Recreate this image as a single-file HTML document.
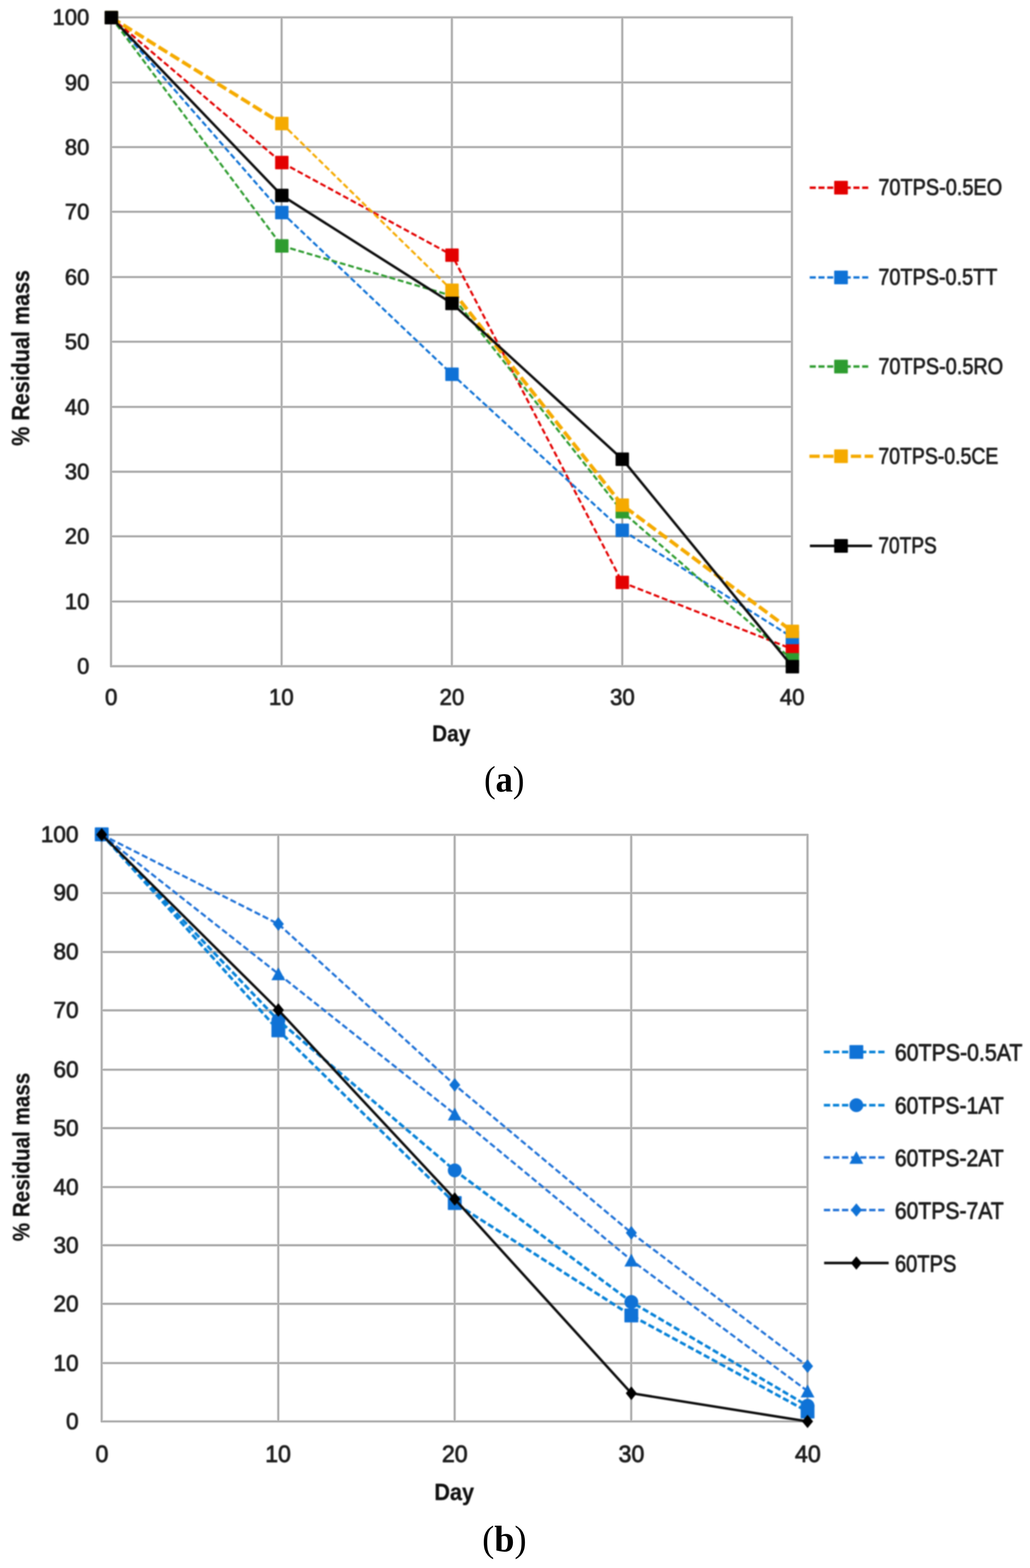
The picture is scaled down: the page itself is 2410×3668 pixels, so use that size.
<!DOCTYPE html>
<html lang="en">
<head>
<meta charset="utf-8">
<title>Residual mass vs. day</title>
<style>
html,body{margin:0;padding:0;background:#fff;}
body{width:2410px;height:3668px;overflow:hidden;}
svg{display:block;}
.g{stroke:#aeaeae;stroke-width:3.8;fill:none;}
.gh{stroke:#dedede;stroke-width:6.8;fill:none;}
.go{stroke:#f8f8f8;stroke-width:9.5;fill:none;}
text{white-space:pre;}
</style>
</head>
<body>
<svg width="2410" height="3668" viewBox="0 0 2410 3668" role="img" aria-label="Residual mass versus day for 70TPS and 60TPS blends">
<defs><filter id="soft" filterUnits="userSpaceOnUse" x="0" y="0" width="2410" height="3668" color-interpolation-filters="sRGB"><feGaussianBlur stdDeviation="1.35"/></filter><filter id="softt" filterUnits="userSpaceOnUse" x="0" y="0" width="2410" height="3668" color-interpolation-filters="sRGB"><feGaussianBlur stdDeviation="1.5"/></filter><filter id="softg" filterUnits="userSpaceOnUse" x="0" y="0" width="2410" height="3668" color-interpolation-filters="sRGB"><feGaussianBlur stdDeviation="0.6"/></filter></defs>
<rect width="2410" height="3668" fill="#ffffff"/>
<g filter="url(#softg)"><path d="M257.95 1558.50H1854.75M257.95 1407.20H1854.75M257.95 1254.60H1854.75M257.95 1103.50H1854.75M257.95 951.90H1854.75M257.95 799.30H1854.75M257.95 648.10H1854.75M257.95 495.40H1854.75M257.95 344.20H1854.75M257.95 192.90H1854.75M257.95 40.60H1854.75M259.80 38.75V1560.35M658.90 38.75V1560.35M1057.30 38.75V1560.35M1456.00 38.75V1560.35M1852.90 38.75V1560.35" class="go"/><path d="M257.95 1558.50H1854.75M257.95 1407.20H1854.75M257.95 1254.60H1854.75M257.95 1103.50H1854.75M257.95 951.90H1854.75M257.95 799.30H1854.75M257.95 648.10H1854.75M257.95 495.40H1854.75M257.95 344.20H1854.75M257.95 192.90H1854.75M257.95 40.60H1854.75M259.80 38.75V1560.35M658.90 38.75V1560.35M1057.30 38.75V1560.35M1456.00 38.75V1560.35M1852.90 38.75V1560.35" class="gh"/><path d="M257.95 1558.50H1854.75M257.95 1407.20H1854.75M257.95 1254.60H1854.75M257.95 1103.50H1854.75M257.95 951.90H1854.75M257.95 799.30H1854.75M257.95 648.10H1854.75M257.95 495.40H1854.75M257.95 344.20H1854.75M257.95 192.90H1854.75M257.95 40.60H1854.75M259.80 38.75V1560.35M658.90 38.75V1560.35M1057.30 38.75V1560.35M1456.00 38.75V1560.35M1852.90 38.75V1560.35" class="g"/></g>
<g id="chart-a" filter="url(#soft)">
<path d="M260.60 41.20L659.40 380.30L1057.60 596.90L1456.00 1362.40L1854.00 1518.50" fill="none" stroke="#e30000" stroke-width="5.0" stroke-dasharray="13.6 6.6" stroke-linecap="butt" stroke-linejoin="round"/>
<rect x="244.90" y="25.50" width="31.40" height="31.40" rx="1.5" fill="#e30000"/>
<rect x="643.70" y="364.60" width="31.40" height="31.40" rx="1.5" fill="#e30000"/>
<rect x="1041.90" y="581.20" width="31.40" height="31.40" rx="1.5" fill="#e30000"/>
<rect x="1440.30" y="1346.70" width="31.40" height="31.40" rx="1.5" fill="#e30000"/>
<rect x="1838.30" y="1502.80" width="31.40" height="31.40" rx="1.5" fill="#e30000"/>
<path d="M260.60 41.20L659.40 497.20L1057.60 875.50L1456.00 1240.40L1854.00 1491.30" fill="none" stroke="#0f72d6" stroke-width="5.0" stroke-dasharray="13.6 6.6" stroke-linecap="butt" stroke-linejoin="round"/>
<rect x="244.90" y="25.50" width="31.40" height="31.40" rx="1.5" fill="#0f72d6"/>
<rect x="643.70" y="481.50" width="31.40" height="31.40" rx="1.5" fill="#0f72d6"/>
<rect x="1041.90" y="859.80" width="31.40" height="31.40" rx="1.5" fill="#0f72d6"/>
<rect x="1440.30" y="1224.70" width="31.40" height="31.40" rx="1.5" fill="#0f72d6"/>
<rect x="1838.30" y="1475.60" width="31.40" height="31.40" rx="1.5" fill="#0f72d6"/>
<path d="M260.60 41.20L659.40 575.20L1057.60 692.00L1456.00 1197.00L1854.00 1543.50" fill="none" stroke="#2e9c2f" stroke-width="5.0" stroke-dasharray="13.6 6.6" stroke-linecap="butt" stroke-linejoin="round"/>
<rect x="244.90" y="25.50" width="31.40" height="31.40" rx="1.5" fill="#2e9c2f"/>
<rect x="643.70" y="559.50" width="31.40" height="31.40" rx="1.5" fill="#2e9c2f"/>
<rect x="1041.90" y="676.30" width="31.40" height="31.40" rx="1.5" fill="#2e9c2f"/>
<rect x="1440.30" y="1181.30" width="31.40" height="31.40" rx="1.5" fill="#2e9c2f"/>
<rect x="1838.30" y="1527.80" width="31.40" height="31.40" rx="1.5" fill="#2e9c2f"/>
<path d="M260.60 41.20L659.40 289.00" fill="none" stroke="#f5aa00" stroke-width="8.4" stroke-dasharray="24 8.5" stroke-linecap="butt" stroke-linejoin="round"/>
<path d="M659.40 289.00L1057.60 679.00" fill="none" stroke="#f5aa00" stroke-width="5.0" stroke-dasharray="13.6 6.6" stroke-linecap="butt" stroke-linejoin="round"/>
<path d="M1057.60 679.00L1456.00 1181.60L1854.00 1477.00" fill="none" stroke="#f5aa00" stroke-width="8.4" stroke-dasharray="24 8.5" stroke-linecap="butt" stroke-linejoin="round"/>
<rect x="244.90" y="25.50" width="31.40" height="31.40" rx="1.5" fill="#f5aa00"/>
<rect x="643.70" y="273.30" width="31.40" height="31.40" rx="1.5" fill="#f5aa00"/>
<rect x="1041.90" y="663.30" width="31.40" height="31.40" rx="1.5" fill="#f5aa00"/>
<rect x="1440.30" y="1165.90" width="31.40" height="31.40" rx="1.5" fill="#f5aa00"/>
<rect x="1838.30" y="1461.30" width="31.40" height="31.40" rx="1.5" fill="#f5aa00"/>
<path d="M260.60 41.20L659.40 457.30L1057.60 709.70L1456.00 1074.20L1854.00 1559.50" fill="none" stroke="#0c0c0c" stroke-width="5.8" stroke-linecap="butt" stroke-linejoin="round"/>
<rect x="244.90" y="25.50" width="31.40" height="31.40" rx="1.5" fill="#000000"/>
<rect x="643.70" y="441.60" width="31.40" height="31.40" rx="1.5" fill="#000000"/>
<rect x="1041.90" y="694.00" width="31.40" height="31.40" rx="1.5" fill="#000000"/>
<rect x="1440.30" y="1058.50" width="31.40" height="31.40" rx="1.5" fill="#000000"/>
<rect x="1838.30" y="1543.80" width="31.40" height="31.40" rx="1.5" fill="#000000"/>
<path d="M1894.60 439.10L2031.50 439.10" fill="none" stroke="#e30000" stroke-width="5.7" stroke-dasharray="14.2 6.25" stroke-linecap="butt" stroke-linejoin="round"/>
<rect x="1951.80" y="423.10" width="32.00" height="32.00" rx="1.5" fill="#e30000"/>
<path d="M1894.60 649.00L2031.50 649.00" fill="none" stroke="#0f72d6" stroke-width="5.7" stroke-dasharray="14.2 6.25" stroke-linecap="butt" stroke-linejoin="round"/>
<rect x="1951.80" y="633.00" width="32.00" height="32.00" rx="1.5" fill="#0f72d6"/>
<path d="M1894.60 857.40L2031.50 857.40" fill="none" stroke="#2e9c2f" stroke-width="5.7" stroke-dasharray="14.2 6.25" stroke-linecap="butt" stroke-linejoin="round"/>
<rect x="1951.80" y="841.40" width="32.00" height="32.00" rx="1.5" fill="#2e9c2f"/>
<path d="M1893.90 1067.30L2043.20 1067.30" fill="none" stroke="#f5aa00" stroke-width="7.8" stroke-dasharray="24 8.3" stroke-linecap="butt" stroke-linejoin="round"/>
<rect x="1951.80" y="1051.30" width="32.00" height="32.00" rx="1.5" fill="#f5aa00"/>
<path d="M1895.00 1277.10L2040.50 1277.10" fill="none" stroke="#0c0c0c" stroke-width="6.0" stroke-linecap="butt" stroke-linejoin="round"/>
<rect x="1951.80" y="1261.10" width="32.00" height="32.00" rx="1.5" fill="#000000"/>
</g>
<g id="chart-a-labels" filter="url(#softt)">
<text transform="matrix(0.5132 0 0 0.5151 180.60 1576.37)" font-family="'Liberation Sans', sans-serif" font-weight="normal" font-size="100" fill="#1e1e1e" stroke="#1e1e1e" stroke-width="3.2" stroke-linejoin="round">0</text>
<text transform="matrix(0.5132 0 0 0.5151 151.86 1425.07)" font-family="'Liberation Sans', sans-serif" font-weight="normal" font-size="100" fill="#1e1e1e" stroke="#1e1e1e" stroke-width="3.2" stroke-linejoin="round">10</text>
<text transform="matrix(0.5132 0 0 0.5151 151.86 1272.47)" font-family="'Liberation Sans', sans-serif" font-weight="normal" font-size="100" fill="#1e1e1e" stroke="#1e1e1e" stroke-width="3.2" stroke-linejoin="round">20</text>
<text transform="matrix(0.5132 0 0 0.5151 151.86 1121.37)" font-family="'Liberation Sans', sans-serif" font-weight="normal" font-size="100" fill="#1e1e1e" stroke="#1e1e1e" stroke-width="3.2" stroke-linejoin="round">30</text>
<text transform="matrix(0.5132 0 0 0.5151 151.86 969.77)" font-family="'Liberation Sans', sans-serif" font-weight="normal" font-size="100" fill="#1e1e1e" stroke="#1e1e1e" stroke-width="3.2" stroke-linejoin="round">40</text>
<text transform="matrix(0.5132 0 0 0.5151 151.86 817.17)" font-family="'Liberation Sans', sans-serif" font-weight="normal" font-size="100" fill="#1e1e1e" stroke="#1e1e1e" stroke-width="3.2" stroke-linejoin="round">50</text>
<text transform="matrix(0.5132 0 0 0.5151 151.86 665.97)" font-family="'Liberation Sans', sans-serif" font-weight="normal" font-size="100" fill="#1e1e1e" stroke="#1e1e1e" stroke-width="3.2" stroke-linejoin="round">60</text>
<text transform="matrix(0.5132 0 0 0.5151 151.86 513.27)" font-family="'Liberation Sans', sans-serif" font-weight="normal" font-size="100" fill="#1e1e1e" stroke="#1e1e1e" stroke-width="3.2" stroke-linejoin="round">70</text>
<text transform="matrix(0.5132 0 0 0.5151 151.86 362.07)" font-family="'Liberation Sans', sans-serif" font-weight="normal" font-size="100" fill="#1e1e1e" stroke="#1e1e1e" stroke-width="3.2" stroke-linejoin="round">80</text>
<text transform="matrix(0.5132 0 0 0.5151 151.86 210.77)" font-family="'Liberation Sans', sans-serif" font-weight="normal" font-size="100" fill="#1e1e1e" stroke="#1e1e1e" stroke-width="3.2" stroke-linejoin="round">90</text>
<text transform="matrix(0.5132 0 0 0.5151 123.12 58.47)" font-family="'Liberation Sans', sans-serif" font-weight="normal" font-size="100" fill="#1e1e1e" stroke="#1e1e1e" stroke-width="3.2" stroke-linejoin="round">100</text>
<text transform="matrix(0.5189 0 0 0.5356 245.83 1649.23)" font-family="'Liberation Sans', sans-serif" font-weight="normal" font-size="100" fill="#1e1e1e" stroke="#1e1e1e" stroke-width="3.2" stroke-linejoin="round">0</text>
<text transform="matrix(0.5189 0 0 0.5356 629.37 1649.23)" font-family="'Liberation Sans', sans-serif" font-weight="normal" font-size="100" fill="#1e1e1e" stroke="#1e1e1e" stroke-width="3.2" stroke-linejoin="round">10</text>
<text transform="matrix(0.5189 0 0 0.5356 1028.54 1649.23)" font-family="'Liberation Sans', sans-serif" font-weight="normal" font-size="100" fill="#1e1e1e" stroke="#1e1e1e" stroke-width="3.2" stroke-linejoin="round">20</text>
<text transform="matrix(0.5189 0 0 0.5356 1427.50 1649.23)" font-family="'Liberation Sans', sans-serif" font-weight="normal" font-size="100" fill="#1e1e1e" stroke="#1e1e1e" stroke-width="3.2" stroke-linejoin="round">30</text>
<text transform="matrix(0.5189 0 0 0.5356 1824.66 1649.23)" font-family="'Liberation Sans', sans-serif" font-weight="normal" font-size="100" fill="#1e1e1e" stroke="#1e1e1e" stroke-width="3.2" stroke-linejoin="round">40</text>
<text transform="matrix(0.4881 0 0 0.5311 1011.07 1733.85)" font-family="'Liberation Sans', sans-serif" font-weight="bold" font-size="100" fill="#101010" stroke="#101010" stroke-width="0.8" stroke-linejoin="round">Day</text>
<text transform="matrix(0 -0.5033 0.5811 0 67.92 1042.91)" font-family="'Liberation Sans', sans-serif" font-weight="bold" font-size="100" fill="#101010" stroke="#101010" stroke-width="0.8" stroke-linejoin="round">% Residual mass</text>
<text transform="matrix(0.4655 0 0 0.5284 2055.14 456.34)" font-family="'Liberation Sans', sans-serif" font-weight="normal" font-size="100" fill="#1e1e1e" stroke="#1e1e1e" stroke-width="3.2" stroke-linejoin="round">70TPS-0.5EO</text>
<text transform="matrix(0.4639 0 0 0.5284 2055.14 666.24)" font-family="'Liberation Sans', sans-serif" font-weight="normal" font-size="100" fill="#1e1e1e" stroke="#1e1e1e" stroke-width="3.2" stroke-linejoin="round">70TPS-0.5TT</text>
<text transform="matrix(0.4654 0 0 0.5284 2055.14 874.64)" font-family="'Liberation Sans', sans-serif" font-weight="normal" font-size="100" fill="#1e1e1e" stroke="#1e1e1e" stroke-width="3.2" stroke-linejoin="round">70TPS-0.5RO</text>
<text transform="matrix(0.4552 0 0 0.5284 2055.18 1084.54)" font-family="'Liberation Sans', sans-serif" font-weight="normal" font-size="100" fill="#1e1e1e" stroke="#1e1e1e" stroke-width="3.2" stroke-linejoin="round">70TPS-0.5CE</text>
<text transform="matrix(0.4468 0 0 0.5284 2055.21 1294.34)" font-family="'Liberation Sans', sans-serif" font-weight="normal" font-size="100" fill="#1e1e1e" stroke="#1e1e1e" stroke-width="3.2" stroke-linejoin="round">70TPS</text>
</g>
<text transform="matrix(0.8093 0 0 0.8578 1132.66 1851.99)" font-family="'Liberation Serif', serif" font-weight="normal" font-size="100" fill="#000">(<tspan font-weight="bold">a</tspan>)</text>
<g filter="url(#softg)"><path d="M236.05 3325.20H1891.25M236.05 3188.70H1891.25M236.05 3050.00H1891.25M236.05 2913.00H1891.25M236.05 2776.90H1891.25M236.05 2639.00H1891.25M236.05 2502.30H1891.25M236.05 2363.50H1891.25M236.05 2227.00H1891.25M236.05 2089.20H1891.25M236.05 1952.90H1891.25M237.90 1951.05V3327.05M651.10 1951.05V3327.05M1063.80 1951.05V3327.05M1476.90 1951.05V3327.05M1889.40 1951.05V3327.05" class="go"/><path d="M236.05 3325.20H1891.25M236.05 3188.70H1891.25M236.05 3050.00H1891.25M236.05 2913.00H1891.25M236.05 2776.90H1891.25M236.05 2639.00H1891.25M236.05 2502.30H1891.25M236.05 2363.50H1891.25M236.05 2227.00H1891.25M236.05 2089.20H1891.25M236.05 1952.90H1891.25M237.90 1951.05V3327.05M651.10 1951.05V3327.05M1063.80 1951.05V3327.05M1476.90 1951.05V3327.05M1889.40 1951.05V3327.05" class="gh"/><path d="M236.05 3325.20H1891.25M236.05 3188.70H1891.25M236.05 3050.00H1891.25M236.05 2913.00H1891.25M236.05 2776.90H1891.25M236.05 2639.00H1891.25M236.05 2502.30H1891.25M236.05 2363.50H1891.25M236.05 2227.00H1891.25M236.05 2089.20H1891.25M236.05 1952.90H1891.25M237.90 1951.05V3327.05M651.10 1951.05V3327.05M1063.80 1951.05V3327.05M1476.90 1951.05V3327.05M1889.40 1951.05V3327.05" class="g"/></g>
<g id="chart-b" filter="url(#soft)">
<path d="M238.00 1951.80L651.30 2410.20L1064.00 2814.20L1477.20 3077.30L1889.50 3302.00" fill="none" stroke="#0782d8" stroke-width="6.5" stroke-dasharray="14.5 6.6" stroke-linecap="butt" stroke-linejoin="round"/>
<rect x="221.80" y="1935.60" width="32.40" height="32.40" rx="1.5" fill="#0f72d6"/>
<rect x="635.10" y="2394.00" width="32.40" height="32.40" rx="1.5" fill="#0f72d6"/>
<rect x="1047.80" y="2798.00" width="32.40" height="32.40" rx="1.5" fill="#0f72d6"/>
<rect x="1461.00" y="3061.10" width="32.40" height="32.40" rx="1.5" fill="#0f72d6"/>
<rect x="1873.30" y="3285.80" width="32.40" height="32.40" rx="1.5" fill="#0f72d6"/>
<path d="M238.00 1952.50L651.30 2387.00L1064.00 2737.90L1477.20 3045.80L1889.50 3288.50" fill="none" stroke="#0782d8" stroke-width="6.5" stroke-dasharray="14.5 6.6" stroke-linecap="butt" stroke-linejoin="round"/>
<circle cx="238.00" cy="1952.50" r="16.20" fill="#0f72d6"/>
<circle cx="651.30" cy="2387.00" r="16.20" fill="#0f72d6"/>
<circle cx="1064.00" cy="2737.90" r="16.20" fill="#0f72d6"/>
<circle cx="1477.20" cy="3045.80" r="16.20" fill="#0f72d6"/>
<circle cx="1889.50" cy="3288.50" r="16.20" fill="#0f72d6"/>
<path d="M238.00 1952.50L651.30 2278.10L1064.00 2606.10L1477.20 2947.80L1889.50 3254.00" fill="none" stroke="#1f72d8" stroke-width="5.2" stroke-dasharray="14.3 6.8" stroke-linecap="butt" stroke-linejoin="round"/>
<path d="M238.00 1937.60L254.20 1967.40L221.80 1967.40Z" fill="#0f72d6"/>
<path d="M651.30 2263.20L667.50 2293.00L635.10 2293.00Z" fill="#0f72d6"/>
<path d="M1064.00 2591.20L1080.20 2621.00L1047.80 2621.00Z" fill="#0f72d6"/>
<path d="M1477.20 2932.90L1493.40 2962.70L1461.00 2962.70Z" fill="#0f72d6"/>
<path d="M1889.50 3239.10L1905.70 3268.90L1873.30 3268.90Z" fill="#0f72d6"/>
<path d="M238.00 1952.50L651.30 2161.50L1064.00 2537.90L1477.20 2883.90L1889.50 3195.90" fill="none" stroke="#1f72d8" stroke-width="5.2" stroke-dasharray="14.3 6.8" stroke-linecap="butt" stroke-linejoin="round"/>
<path d="M238.00 1936.79L250.96 1952.50L238.00 1968.21L225.04 1952.50Z" fill="#0f72d6"/>
<path d="M651.30 2145.79L664.26 2161.50L651.30 2177.21L638.34 2161.50Z" fill="#0f72d6"/>
<path d="M1064.00 2522.19L1076.96 2537.90L1064.00 2553.61L1051.04 2537.90Z" fill="#0f72d6"/>
<path d="M1477.20 2868.19L1490.16 2883.90L1477.20 2899.61L1464.24 2883.90Z" fill="#0f72d6"/>
<path d="M1889.50 3180.19L1902.46 3195.90L1889.50 3211.61L1876.54 3195.90Z" fill="#0f72d6"/>
<path d="M238.00 1952.50L651.30 2362.80L1064.00 2804.90L1477.20 3259.20L1889.50 3325.10" fill="none" stroke="#0c0c0c" stroke-width="5.8" stroke-linecap="butt" stroke-linejoin="round"/>
<path d="M238.00 1936.79L250.96 1952.50L238.00 1968.21L225.04 1952.50Z" fill="#000000"/>
<path d="M651.30 2347.09L664.26 2362.80L651.30 2378.51L638.34 2362.80Z" fill="#000000"/>
<path d="M1064.00 2789.19L1076.96 2804.90L1064.00 2820.61L1051.04 2804.90Z" fill="#000000"/>
<path d="M1477.20 3243.49L1490.16 3259.20L1477.20 3274.91L1464.24 3259.20Z" fill="#000000"/>
<path d="M1889.50 3309.39L1902.46 3325.10L1889.50 3340.81L1876.54 3325.10Z" fill="#000000"/>
<path d="M1927.70 2460.90L2069.60 2460.90" fill="none" stroke="#0782d8" stroke-width="6.4" stroke-dasharray="14.7 6.5" stroke-linecap="butt" stroke-linejoin="round"/>
<rect x="1987.50" y="2444.70" width="32.40" height="32.40" rx="1.5" fill="#0f72d6"/>
<path d="M1927.70 2585.40L2069.60 2585.40" fill="none" stroke="#0782d8" stroke-width="6.4" stroke-dasharray="14.7 6.5" stroke-linecap="butt" stroke-linejoin="round"/>
<circle cx="2003.70" cy="2585.40" r="16.20" fill="#0f72d6"/>
<path d="M1927.70 2707.70L2069.60 2707.70" fill="none" stroke="#1f72d8" stroke-width="5.7" stroke-dasharray="14.7 6.5" stroke-linecap="butt" stroke-linejoin="round"/>
<path d="M2003.70 2692.80L2019.90 2722.60L1987.50 2722.60Z" fill="#0f72d6"/>
<path d="M1927.70 2830.60L2069.60 2830.60" fill="none" stroke="#1f72d8" stroke-width="5.7" stroke-dasharray="14.7 6.5" stroke-linecap="butt" stroke-linejoin="round"/>
<path d="M2003.70 2814.89L2016.66 2830.60L2003.70 2846.31L1990.74 2830.60Z" fill="#0f72d6"/>
<path d="M1928.30 2954.60L2079.30 2954.60" fill="none" stroke="#0c0c0c" stroke-width="6.0" stroke-linecap="butt" stroke-linejoin="round"/>
<path d="M2003.70 2938.89L2016.66 2954.60L2003.70 2970.31L1990.74 2954.60Z" fill="#000000"/>
</g>
<g id="chart-b-labels" filter="url(#softt)">
<text transform="matrix(0.5283 0 0 0.5370 154.60 3343.43)" font-family="'Liberation Sans', sans-serif" font-weight="normal" font-size="100" fill="#1e1e1e" stroke="#1e1e1e" stroke-width="3.2" stroke-linejoin="round">0</text>
<text transform="matrix(0.5283 0 0 0.5370 125.02 3206.80)" font-family="'Liberation Sans', sans-serif" font-weight="normal" font-size="100" fill="#1e1e1e" stroke="#1e1e1e" stroke-width="3.2" stroke-linejoin="round">10</text>
<text transform="matrix(0.5283 0 0 0.5370 125.02 3067.97)" font-family="'Liberation Sans', sans-serif" font-weight="normal" font-size="100" fill="#1e1e1e" stroke="#1e1e1e" stroke-width="3.2" stroke-linejoin="round">20</text>
<text transform="matrix(0.5283 0 0 0.5370 125.02 2930.84)" font-family="'Liberation Sans', sans-serif" font-weight="normal" font-size="100" fill="#1e1e1e" stroke="#1e1e1e" stroke-width="3.2" stroke-linejoin="round">30</text>
<text transform="matrix(0.5283 0 0 0.5370 125.02 2794.61)" font-family="'Liberation Sans', sans-serif" font-weight="normal" font-size="100" fill="#1e1e1e" stroke="#1e1e1e" stroke-width="3.2" stroke-linejoin="round">40</text>
<text transform="matrix(0.5283 0 0 0.5370 125.02 2656.58)" font-family="'Liberation Sans', sans-serif" font-weight="normal" font-size="100" fill="#1e1e1e" stroke="#1e1e1e" stroke-width="3.2" stroke-linejoin="round">50</text>
<text transform="matrix(0.5283 0 0 0.5370 125.02 2519.75)" font-family="'Liberation Sans', sans-serif" font-weight="normal" font-size="100" fill="#1e1e1e" stroke="#1e1e1e" stroke-width="3.2" stroke-linejoin="round">60</text>
<text transform="matrix(0.5283 0 0 0.5370 125.02 2380.82)" font-family="'Liberation Sans', sans-serif" font-weight="normal" font-size="100" fill="#1e1e1e" stroke="#1e1e1e" stroke-width="3.2" stroke-linejoin="round">70</text>
<text transform="matrix(0.5283 0 0 0.5370 125.02 2244.19)" font-family="'Liberation Sans', sans-serif" font-weight="normal" font-size="100" fill="#1e1e1e" stroke="#1e1e1e" stroke-width="3.2" stroke-linejoin="round">80</text>
<text transform="matrix(0.5283 0 0 0.5370 125.02 2106.26)" font-family="'Liberation Sans', sans-serif" font-weight="normal" font-size="100" fill="#1e1e1e" stroke="#1e1e1e" stroke-width="3.2" stroke-linejoin="round">90</text>
<text transform="matrix(0.5283 0 0 0.5370 95.43 1969.83)" font-family="'Liberation Sans', sans-serif" font-weight="normal" font-size="100" fill="#1e1e1e" stroke="#1e1e1e" stroke-width="3.2" stroke-linejoin="round">100</text>
<text transform="matrix(0.5425 0 0 0.5534 223.48 3419.99)" font-family="'Liberation Sans', sans-serif" font-weight="normal" font-size="100" fill="#1e1e1e" stroke="#1e1e1e" stroke-width="3.2" stroke-linejoin="round">0</text>
<text transform="matrix(0.5425 0 0 0.5534 620.41 3419.99)" font-family="'Liberation Sans', sans-serif" font-weight="normal" font-size="100" fill="#1e1e1e" stroke="#1e1e1e" stroke-width="3.2" stroke-linejoin="round">10</text>
<text transform="matrix(0.5425 0 0 0.5534 1033.92 3419.99)" font-family="'Liberation Sans', sans-serif" font-weight="normal" font-size="100" fill="#1e1e1e" stroke="#1e1e1e" stroke-width="3.2" stroke-linejoin="round">20</text>
<text transform="matrix(0.5425 0 0 0.5534 1447.29 3419.99)" font-family="'Liberation Sans', sans-serif" font-weight="normal" font-size="100" fill="#1e1e1e" stroke="#1e1e1e" stroke-width="3.2" stroke-linejoin="round">30</text>
<text transform="matrix(0.5425 0 0 0.5534 1860.07 3419.99)" font-family="'Liberation Sans', sans-serif" font-weight="normal" font-size="100" fill="#1e1e1e" stroke="#1e1e1e" stroke-width="3.2" stroke-linejoin="round">40</text>
<text transform="matrix(0.5079 0 0 0.5622 1016.15 3508.89)" font-family="'Liberation Sans', sans-serif" font-weight="bold" font-size="100" fill="#101010" stroke="#101010" stroke-width="0.8" stroke-linejoin="round">Day</text>
<text transform="matrix(0 -0.4825 0.5608 0 68.54 2903.56)" font-family="'Liberation Sans', sans-serif" font-weight="bold" font-size="100" fill="#101010" stroke="#101010" stroke-width="0.8" stroke-linejoin="round">% Residual mass</text>
<text transform="matrix(0.4987 0 0 0.5622 2093.81 2480.88)" font-family="'Liberation Sans', sans-serif" font-weight="normal" font-size="100" fill="#1e1e1e" stroke="#1e1e1e" stroke-width="3.2" stroke-linejoin="round">60TPS-0.5AT</text>
<text transform="matrix(0.4945 0 0 0.5622 2093.82 2605.38)" font-family="'Liberation Sans', sans-serif" font-weight="normal" font-size="100" fill="#1e1e1e" stroke="#1e1e1e" stroke-width="3.2" stroke-linejoin="round">60TPS-1AT</text>
<text transform="matrix(0.4945 0 0 0.5622 2093.82 2727.68)" font-family="'Liberation Sans', sans-serif" font-weight="normal" font-size="100" fill="#1e1e1e" stroke="#1e1e1e" stroke-width="3.2" stroke-linejoin="round">60TPS-2AT</text>
<text transform="matrix(0.4945 0 0 0.5622 2093.82 2850.58)" font-family="'Liberation Sans', sans-serif" font-weight="normal" font-size="100" fill="#1e1e1e" stroke="#1e1e1e" stroke-width="3.2" stroke-linejoin="round">60TPS-7AT</text>
<text transform="matrix(0.4706 0 0 0.5622 2093.92 2974.58)" font-family="'Liberation Sans', sans-serif" font-weight="normal" font-size="100" fill="#1e1e1e" stroke="#1e1e1e" stroke-width="3.2" stroke-linejoin="round">60TPS</text>
</g>
<text transform="matrix(0.8482 0 0 0.8722 1128.21 3628.88)" font-family="'Liberation Serif', serif" font-weight="normal" font-size="100" fill="#000">(<tspan font-weight="bold">b</tspan>)</text>
</svg>
</body>
</html>
